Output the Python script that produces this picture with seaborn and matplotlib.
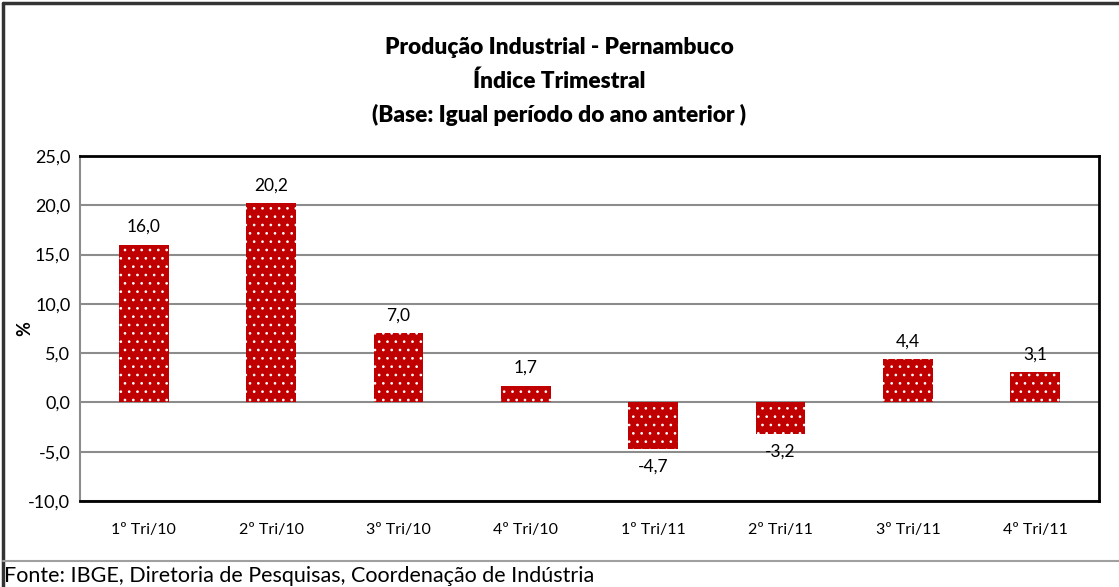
import matplotlib
matplotlib.use('Agg')
import matplotlib.pyplot as plt
import seaborn as sns
import pandas as pd
from matplotlib.lines import Line2D

# Dados do gráfico
trimestres = ['1º Tri/10', '2º Tri/10', '3º Tri/10', '4º Tri/10',
              '1º Tri/11', '2º Tri/11', '3º Tri/11', '4º Tri/11']
variacao = [16.0, 20.2, 7.0, 1.7, -4.7, -3.2, 4.4, 3.1]
yticks = [-10, -5, 0, 5, 10, 15, 20, 25]

df = pd.DataFrame({'trimestre': trimestres, 'variacao': variacao})

sns.set_style('white')
plt.rcParams['font.family'] = ['Lato', 'DejaVu Sans']
plt.rcParams['text.color'] = 'black'
plt.rcParams['xtick.color'] = 'black'
plt.rcParams['ytick.color'] = 'black'
plt.rcParams['axes.labelcolor'] = 'black'
plt.rcParams['hatch.color'] = '#f8e6e6'
plt.rcParams['hatch.linewidth'] = 0.7

fig = plt.figure(figsize=(11.19, 5.87), dpi=100)
ax = fig.add_axes([80 / 1119, 1 - 501 / 587, (1099 - 80) / 1119, (501 - 156) / 587])

sns.barplot(data=df, x='trimestre', y='variacao', color='#C00000',
            width=0.39, saturation=1, ax=ax, zorder=3)
for p in ax.patches:
    p.set_hatch('..')
    p.set_linewidth(0)

ax.set_ylim(-10, 25)
ax.set_yticks(yticks)
ax.set_yticklabels([f'{t:.1f}'.replace('.', ',') for t in yticks], fontsize=13)
ax.set_xticks(range(len(trimestres)))
ax.set_xticklabels(trimestres, fontsize=11.5)
ax.tick_params(axis='x', length=0, pad=16)
ax.tick_params(axis='y', length=0, pad=7)
ax.grid(axis='y', color='#8c8c8c', linewidth=1.5, zorder=0)
ax.set_axisbelow(True)
ax.set_xlabel('')
ax.set_ylabel('%', fontsize=13, fontweight='bold')
ax.yaxis.set_label_coords(-0.046, 0.5)

for side in ['top', 'right', 'bottom']:
    ax.spines[side].set_color('black')
    ax.spines[side].set_linewidth(2)
ax.spines['left'].set_color('#8c8c8c')
ax.spines['left'].set_linewidth(1.5)

labels = [f'{v:.1f}'.replace('.', ',') for v in variacao]
ax.bar_label(ax.containers[0], labels=labels, padding=7, fontsize=12.5)

for y, txt in [(47, 'Produção Industrial - Pernambuco'),
               (81, 'Índice Trimestral'),
               (115, '(Base: Igual período do ano anterior )')]:
    fig.text(0.5, 1 - y / 587, txt, ha='center', va='center',
             fontsize=16.3, fontweight='heavy')

fig.text(4 / 1119, 1 - 576 / 587, 'Fonte: IBGE, Diretoria de Pesquisas, Coordenação de Indústria',
         ha='left', va='center', fontsize=15.5)

# Moldura
x0 = 3 / 1119
ytop = 1 - 3 / 587
ysep = 1 - 561 / 587
fig.add_artist(Line2D([x0, 1], [ytop, ytop], transform=fig.transFigure, color='#333333', linewidth=2.5))
fig.add_artist(Line2D([x0, x0], [0, ytop], transform=fig.transFigure, color='#333333', linewidth=2.5))
fig.add_artist(Line2D([x0, 1], [ysep, ysep], transform=fig.transFigure, color='#a0a0a0', linewidth=1.5))

fig.savefig('out.png', dpi=100)
